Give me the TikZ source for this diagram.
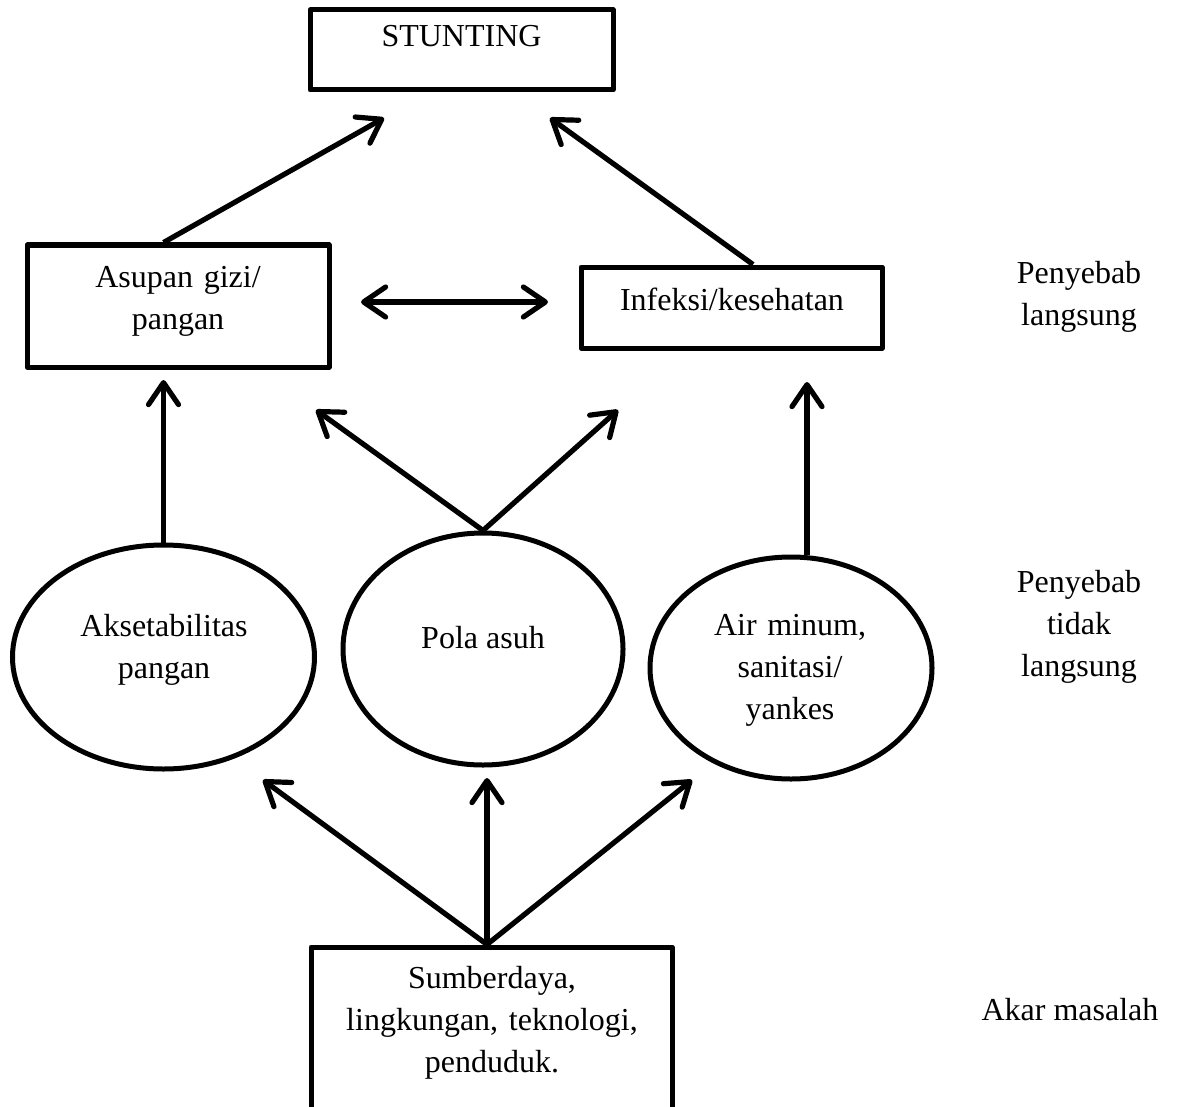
\documentclass[tikz,border=0pt]{standalone}
\usepackage{fontspec}
\setmainfont{Liberation Serif}
\usetikzlibrary{arrows.meta,shapes.geometric}
\begin{document}
\begin{tikzpicture}[x=0.5pt,y=-0.5pt,
  every node/.style={font=\fontsize{16pt}{21pt}\selectfont},
  box/.style={draw, line width=2.5pt, line join=round, inner sep=0pt},
  oval/.style={draw, ellipse, line width=2.5pt, inner sep=0pt},
  lbl/.style={anchor=base, align=center, inner sep=0pt},
  tip/.style={Straight Barb[length=11pt,width=15pt,round]},
  arr/.style={line width=2.6pt, -{Straight Barb[length=11pt,width=15pt,round]}},
  darr/.style={line width=2.6pt, {Straight Barb[length=11pt,width=15pt,round]}-{Straight Barb[length=11pt,width=15pt,round]}}
]
\useasboundingbox (0,0) rectangle (1182,1107);
\clip (0,0) rectangle (1182,1107);

% boxes
\node[box, minimum width=151.5pt, minimum height=40pt] (stunting) at (461.5,50) {};
\node[box, minimum width=151pt, minimum height=61pt] (asupan) at (178,306) {};
\node[box, minimum width=150.5pt, minimum height=40.5pt] (infeksi) at (731.5,307.5) {};
\node[box, minimum width=180.5pt, minimum height=93pt] (sumber) at (491.5,1040) {};

% ellipses
\node[oval, minimum width=151pt, minimum height=112pt] (e1) at (163.5,657) {};
\node[oval, minimum width=140pt, minimum height=116pt] (e2) at (483,649) {};
\node[oval, minimum width=141pt, minimum height=111pt] (e3) at (791,668) {};

% texts
\node[lbl] (tstunting) at (461.5,47) {STUNTING};
\node[lbl, text width=140pt] (tasupan) at (178,287) {Asupan gizi/\\pangan};
\node[lbl] (tinfeksi) at (732,310) {Infeksi/kesehatan};
\node[lbl, text width=140pt] (te1) at (164,636) {Aksetabilitas\\pangan};
\node[lbl] (te2) at (483,648) {Pola asuh};
\node[lbl, text width=130pt] (te3) at (790,635) {Air minum,\\sanitasi/\\yankes};
\node[lbl, text width=175pt] (tsumber) at (492,988) {Sumberdaya,\\lingkungan, teknologi,\\penduduk.};
\node[lbl, text width=90pt] (r1) at (1079,283) {Penyebab\\langsung};
\node[lbl, text width=90pt] (r2) at (1079,592) {Penyebab\\tidak\\langsung};
\node[lbl] (r3) at (1070,1020) {Akar masalah};

% free arrow ends
\coordinate (tS1) at (384,118);
\coordinate (tS2) at (550,118);
\coordinate (dL) at (361,302);
\coordinate (dR) at (548,302);
\coordinate (tA) at (163.5,380);
\coordinate (tP1) at (316,410);
\coordinate (tP2) at (618,410);
\coordinate (tI) at (807,382);
\coordinate (tB1) at (263,780);
\coordinate (tB2) at (487,778);
\coordinate (tB3) at (692,780);

% connectors
\draw[arr] (e1.north |- asupan.north) -- (tS1);
\draw[arr] ([xshift=10.75pt]infeksi.north) -- (tS2);
\draw[darr] (dL) -- (dR);
\draw[arr] (e1.north) -- (tA);
\draw[arr] (e2.north) -- (tP1);
\draw[arr] (e2.north) -- (tP2);
\draw[arr] ([xshift=8pt]e3.north) -- (tI);
\draw[arr] ([xshift=-2.25pt]sumber.north) -- (tB1);
\draw[arr] ([xshift=-2.25pt]sumber.north) -- (tB2);
\draw[arr] ([xshift=-2.25pt]sumber.north) -- (tB3);
\end{tikzpicture}
\end{document}
